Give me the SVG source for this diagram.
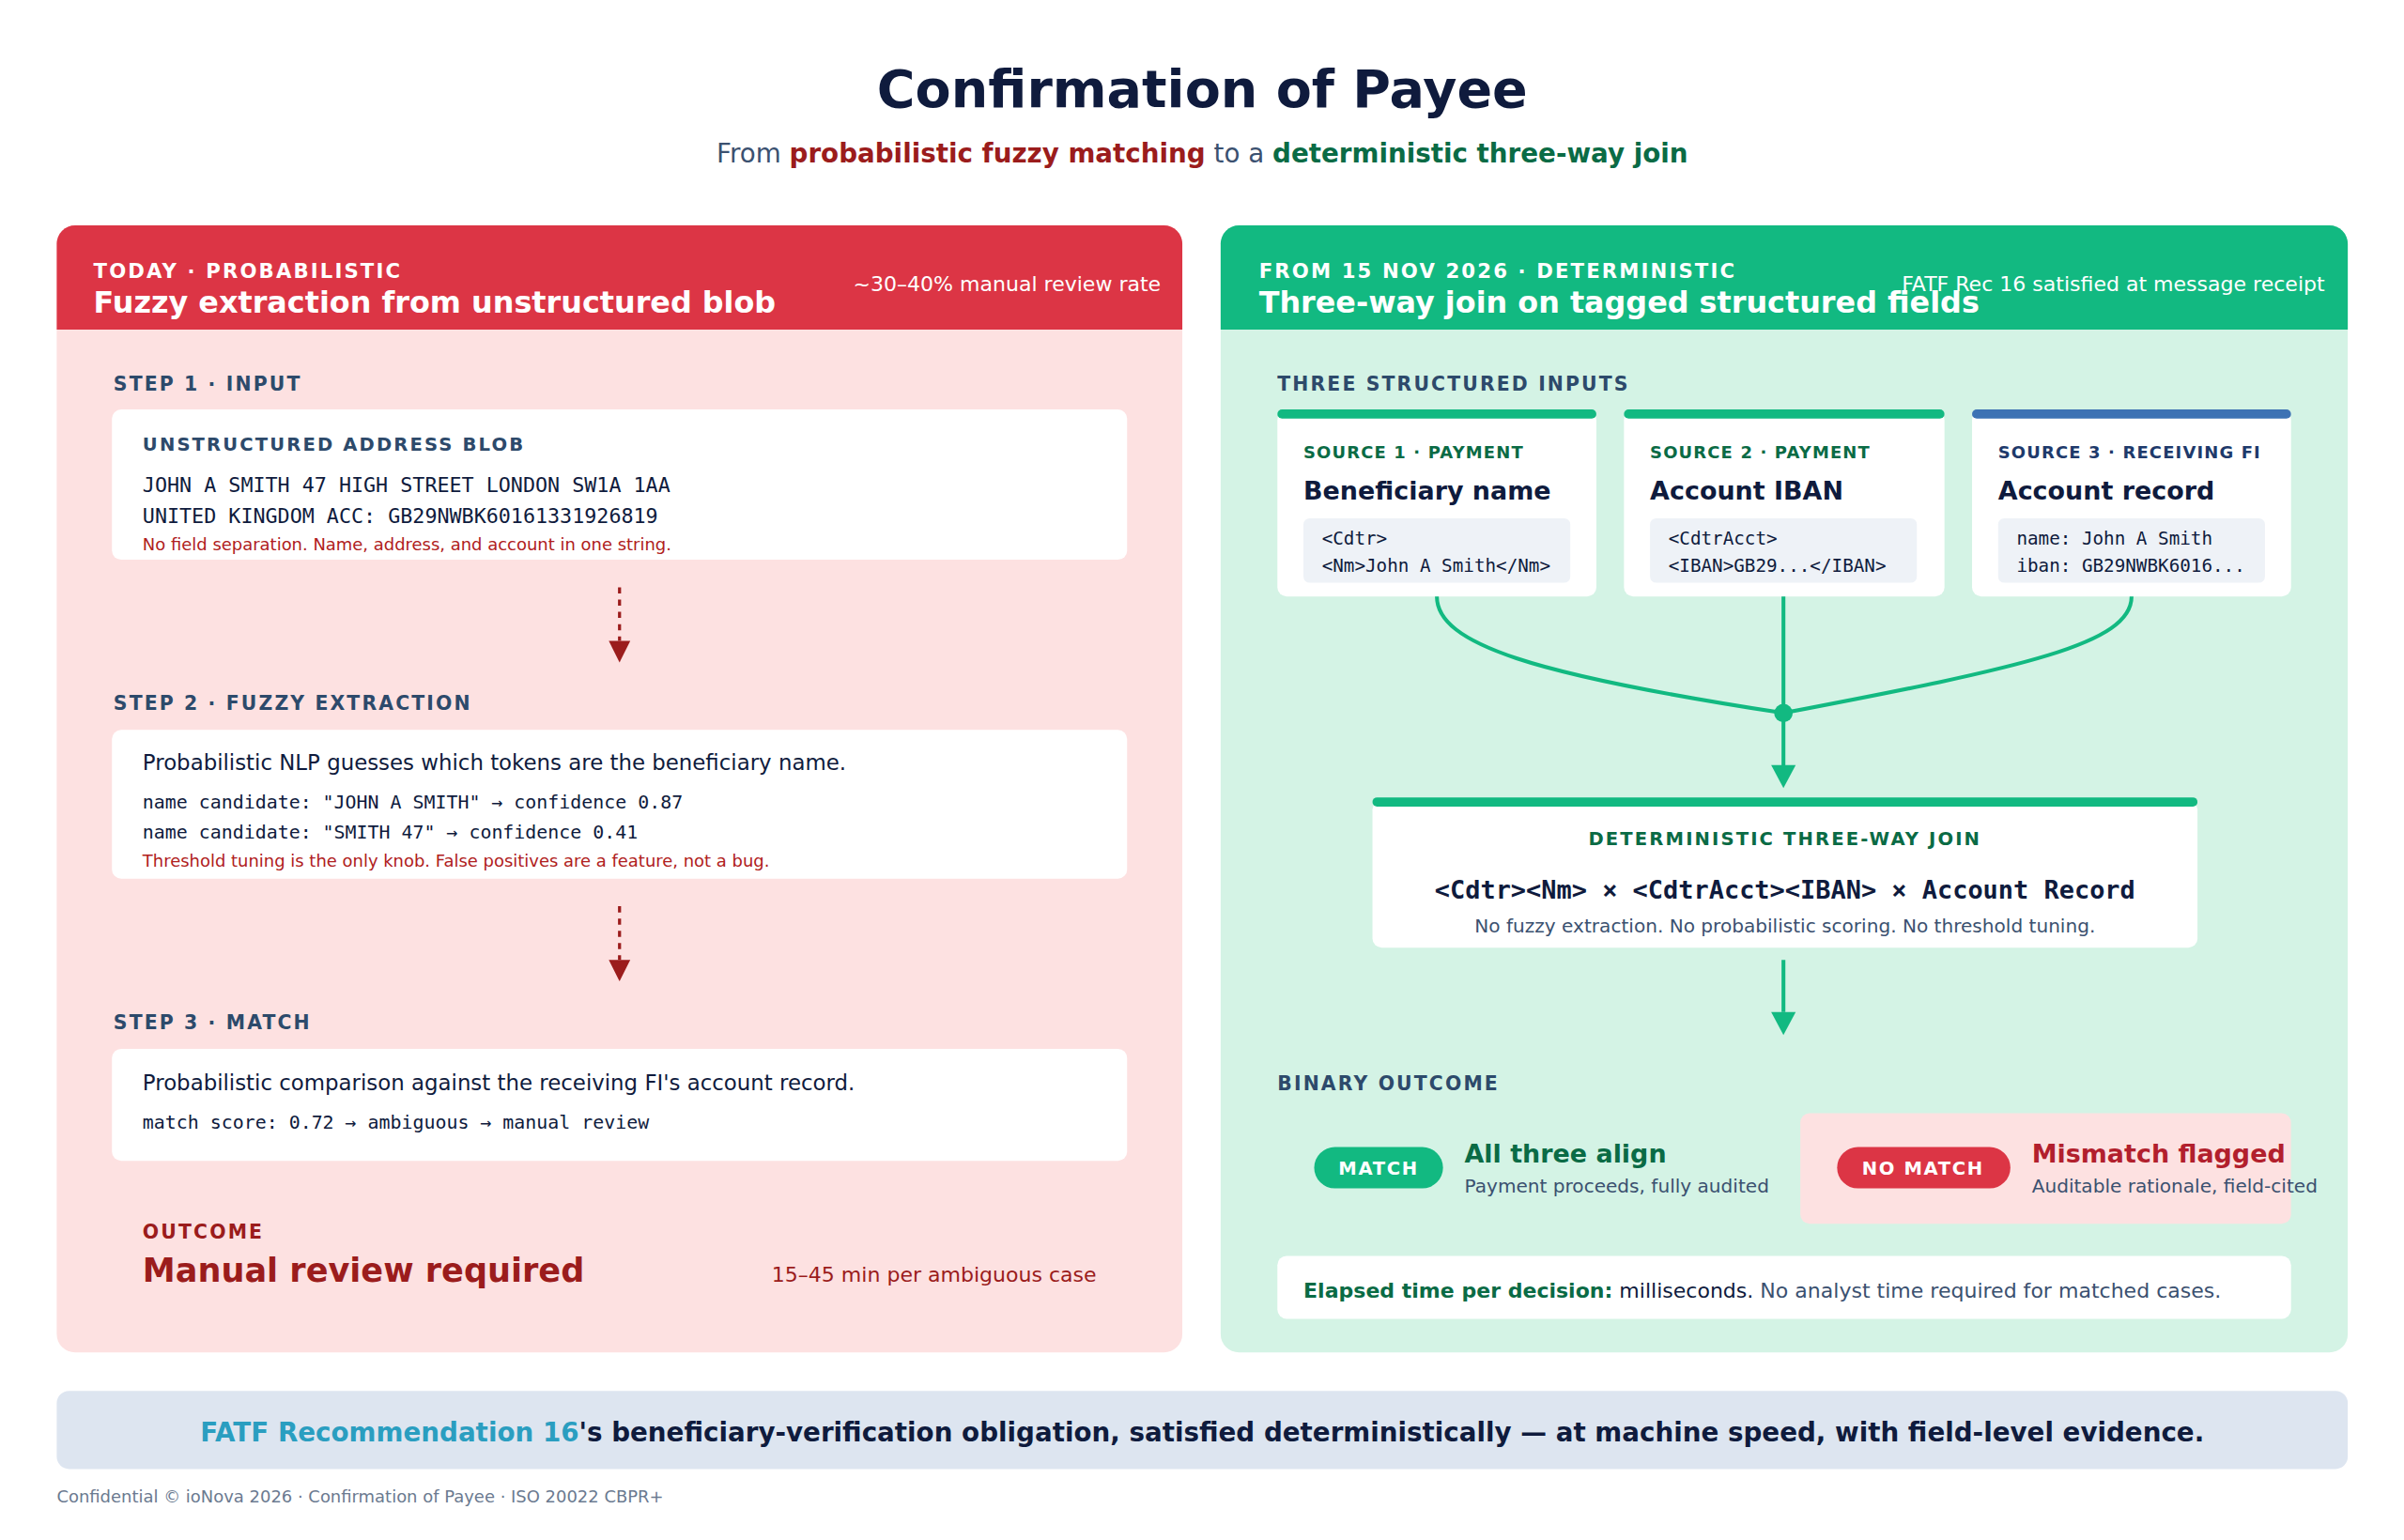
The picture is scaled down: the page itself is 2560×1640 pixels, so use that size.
<svg xmlns="http://www.w3.org/2000/svg" width="2560" height="1640" viewBox="0 0 2560 1640">
<defs>
<style>
text{font-family:"DejaVu Sans","Noto Sans",sans-serif}
.mono{font-family:"DejaVu Sans Mono","Liberation Mono",monospace}
.cap{font-weight:bold;letter-spacing:1.3px}
.wb{fill:#fff}
</style>
</defs>
<rect width="2560" height="1640" fill="#fff"/>
<g transform="scale(1.633)">
<g id="title">
<text x="784" y="70" text-anchor="middle" font-size="34" font-weight="bold" fill="#0f1b3d">Confirmation of Payee</text>
<text x="784" y="106" text-anchor="middle" font-size="17" fill="#3b5170">From <tspan fill="#9b1c1c" font-weight="bold">probabilistic fuzzy matching</tspan> to a <tspan fill="#0a6b45" font-weight="bold">deterministic three-way join</tspan></text>
</g>
<g id="left-panel">
<rect x="37" y="147" width="734" height="735" rx="12" fill="#fde1e1"/>
<path d="M37,215V159a12,12 0 0 1 12,-12H759a12,12 0 0 1 12,12V215z" fill="#dc3545"/>
<text x="61" y="181" font-size="13" class="cap" fill="#fff">TODAY · PROBABILISTIC</text>
<text x="61" y="204" font-size="19.5" font-weight="bold" fill="#fff">Fuzzy extraction from unstructured blob</text>
<text x="757" y="190" font-size="13.5" text-anchor="end" fill="#fff">~30–40% manual review rate</text>
</g>
<g id="step1">
<text x="74" y="255" font-size="12.5" class="cap" fill="#2d4a6b">STEP 1 · INPUT</text>
<rect x="73" y="267" width="662" height="98" rx="6" class="wb"/>
<text x="93" y="294" font-size="12" class="cap" fill="#2d4a6b">UNSTRUCTURED ADDRESS BLOB</text>
<text x="93" y="321" font-size="13.3" class="mono" fill="#0f1b3d">JOHN A SMITH 47 HIGH STREET LONDON SW1A 1AA</text>
<text x="93" y="341" font-size="13.3" class="mono" fill="#0f1b3d">UNITED KINGDOM ACC: GB29NWBK60161331926819</text>
<text x="93" y="359" font-size="11" fill="#b02020">No field separation. Name, address, and account in one string.</text>
</g>
<g id="step2">
<text x="74" y="463" font-size="12.5" class="cap" fill="#2d4a6b">STEP 2 · FUZZY EXTRACTION</text>
<rect x="73" y="476" width="662" height="97" rx="6" class="wb"/>
<text x="93" y="502" font-size="14" fill="#0f1b3d">Probabilistic NLP guesses which tokens are the beneficiary name.</text>
<text x="93" y="527" font-size="12.2" class="mono" fill="#0f1b3d">name candidate: "JOHN A SMITH" → confidence 0.87</text>
<text x="93" y="547" font-size="12.2" class="mono" fill="#0f1b3d">name candidate: "SMITH 47" → confidence 0.41</text>
<text x="93" y="565" font-size="11" fill="#b02020">Threshold tuning is the only knob. False positives are a feature, not a bug.</text>
</g>
<g id="step3">
<text x="74" y="671" font-size="12.5" class="cap" fill="#2d4a6b">STEP 3 · MATCH</text>
<rect x="73" y="684" width="662" height="73" rx="6" class="wb"/>
<text x="93" y="711" font-size="14" fill="#0f1b3d">Probabilistic comparison against the receiving FI's account record.</text>
<text x="93" y="736" font-size="12.2" class="mono" fill="#0f1b3d">match score: 0.72 → ambiguous → manual review</text>
</g>
<g id="outcome-left">
<text x="93" y="808" font-size="12.5" class="cap" fill="#9b1c1c">OUTCOME</text>
<text x="93" y="836" font-size="21.5" font-weight="bold" fill="#9b1c1c">Manual review required</text>
<text x="715" y="836" font-size="13.5" text-anchor="end" fill="#9b1c1c">15–45 min per ambiguous case</text>
</g>
<g id="right-panel">
<rect x="796" y="147" width="735" height="735" rx="12" fill="#d4f3e5"/>
<path d="M796,215V159a12,12 0 0 1 12,-12H1519a12,12 0 0 1 12,12V215z" fill="#12b981"/>
<text x="821" y="181" font-size="13" class="cap" fill="#fff">FROM 15 NOV 2026 · DETERMINISTIC</text>
<text x="821" y="204" font-size="19.5" font-weight="bold" fill="#fff">Three-way join on tagged structured fields</text>
<text x="1516" y="190" font-size="13.5" text-anchor="end" fill="#fff">FATF Rec 16 satisfied at message receipt</text>
<text x="833" y="255" font-size="12.5" class="cap" fill="#2d4a6b">THREE STRUCTURED INPUTS</text>
</g>
<g id="source1">
<rect x="833" y="268" width="208" height="121" rx="6" class="wb"/>
<rect x="833" y="267" width="208" height="6" rx="3" fill="#12b981"/>
<text x="850" y="299" font-size="11" font-weight="bold" letter-spacing="0.7" fill="#0a6b45">SOURCE 1 · PAYMENT</text>
<text x="850" y="326" font-size="16.5" font-weight="bold" fill="#0f1b3d">Beneficiary name</text>
<rect x="850" y="338" width="174" height="42" rx="4" fill="#eef2f7"/>
<text x="862" y="355" font-size="11.8" class="mono" fill="#0f1b3d">&lt;Cdtr&gt;</text>
<text x="862" y="373" font-size="11.8" class="mono" fill="#0f1b3d">&lt;Nm&gt;John A Smith&lt;/Nm&gt;</text>
</g>
<g id="source2">
<rect x="1059" y="268" width="209" height="121" rx="6" class="wb"/>
<rect x="1059" y="267" width="209" height="6" rx="3" fill="#12b981"/>
<text x="1076" y="299" font-size="11" font-weight="bold" letter-spacing="0.7" fill="#0a6b45">SOURCE 2 · PAYMENT</text>
<text x="1076" y="326" font-size="16.5" font-weight="bold" fill="#0f1b3d">Account IBAN</text>
<rect x="1076" y="338" width="174" height="42" rx="4" fill="#eef2f7"/>
<text x="1088" y="355" font-size="11.8" class="mono" fill="#0f1b3d">&lt;CdtrAcct&gt;</text>
<text x="1088" y="373" font-size="11.8" class="mono" fill="#0f1b3d">&lt;IBAN&gt;GB29...&lt;/IBAN&gt;</text>
</g>
<g id="source3">
<rect x="1286" y="268" width="208" height="121" rx="6" class="wb"/>
<rect x="1286" y="267" width="208" height="6" rx="3" fill="#3d72b4"/>
<text x="1303" y="299" font-size="11" font-weight="bold" letter-spacing="0.7" fill="#1e3a6b">SOURCE 3 · RECEIVING FI</text>
<text x="1303" y="326" font-size="16.5" font-weight="bold" fill="#0f1b3d">Account record</text>
<rect x="1303" y="338" width="174" height="42" rx="4" fill="#eef2f7"/>
<text x="1315" y="355" font-size="11.8" class="mono" fill="#0f1b3d">name: John A Smith</text>
<text x="1315" y="373" font-size="11.8" class="mono" fill="#0f1b3d">iban: GB29NWBK6016...</text>
</g>
<g id="join">
<rect x="895" y="522" width="538" height="96" rx="6" class="wb"/>
<rect x="895" y="520" width="538" height="6" rx="3" fill="#12b981"/>
<text x="1164" y="551" font-size="12" class="cap" text-anchor="middle" fill="#0a6b45">DETERMINISTIC THREE-WAY JOIN</text>
<text x="1164" y="586" font-size="16.5" font-weight="bold" class="mono" text-anchor="middle" fill="#0f1b3d">&lt;Cdtr&gt;&lt;Nm&gt; × &lt;CdtrAcct&gt;&lt;IBAN&gt; × Account Record</text>
<text x="1164" y="608" font-size="12.3" text-anchor="middle" fill="#3b5170">No fuzzy extraction. No probabilistic scoring. No threshold tuning.</text>
</g>
<g id="outcomes">
<text x="833" y="711" font-size="12.5" class="cap" fill="#2d4a6b">BINARY OUTCOME</text>
<rect x="857" y="748" width="84" height="27" rx="13.5" fill="#12b981"/>
<text x="899" y="766" font-size="12" font-weight="bold" letter-spacing="1" text-anchor="middle" fill="#fff">MATCH</text>
<text x="955" y="758" font-size="16.5" font-weight="bold" fill="#0a6b45">All three align</text>
<text x="955" y="778" font-size="12.3" fill="#3b5170">Payment proceeds, fully audited</text>
<rect x="1174" y="726" width="320" height="72" rx="6" fill="#fde1e1"/>
<rect x="1198" y="748" width="113" height="27" rx="13.5" fill="#dc3545"/>
<text x="1254" y="766" font-size="12" font-weight="bold" letter-spacing="1" text-anchor="middle" fill="#fff">NO MATCH</text>
<text x="1325" y="758" font-size="16.5" font-weight="bold" fill="#b21f2d">Mismatch flagged</text>
<text x="1325" y="778" font-size="12.3" fill="#3b5170">Auditable rationale, field-cited</text>
<rect x="833" y="819" width="661" height="41" rx="6" class="wb"/>
<text x="850" y="846" font-size="13.5" fill="#0f1b3d"><tspan font-weight="bold" fill="#0a6b45">Elapsed time per decision:</tspan> milliseconds. <tspan fill="#3b5170">No analyst time required for matched cases.</tspan></text>
</g>
<g id="connectors" fill="none">
<path d="M404,383V418" stroke="#9b1c1c" stroke-width="2" stroke-dasharray="4,4"/>
<path d="M397,418L411,418L404,432z" fill="#9b1c1c"/>
<path d="M404,591V626" stroke="#9b1c1c" stroke-width="2" stroke-dasharray="4,4"/>
<path d="M397,626L411,626L404,640z" fill="#9b1c1c"/>
<path d="M937,389C937,420 1000,440 1163,465" stroke="#12b981" stroke-width="2.5"/>
<path d="M1390,389C1390,420 1320,435 1163,465" stroke="#12b981" stroke-width="2.5"/>
<path d="M1163,389V500" stroke="#12b981" stroke-width="2.5"/>
<circle cx="1163" cy="465" r="6" fill="#12b981"/>
<path d="M1155,499L1171,499L1163,514z" fill="#12b981"/>
<path d="M1163,626V660" stroke="#12b981" stroke-width="2.5"/>
<path d="M1155,660L1171,660L1163,675z" fill="#12b981"/>
</g>
<g id="banner">
<rect x="37" y="907" width="1494" height="51" rx="8" fill="#dde5f0"/>
<text x="784" y="940" font-size="17" font-weight="bold" text-anchor="middle" fill="#0f1b3d"><tspan fill="#2a9ec0">FATF Recommendation 16</tspan>'s beneficiary-verification obligation, satisfied deterministically — at machine speed, with field-level evidence.</text>
<text x="37" y="980" font-size="11" fill="#6b7a90">Confidential © ioNova 2026 · Confirmation of Payee · ISO 20022 CBPR+</text>
</g>
</g>
</svg>
